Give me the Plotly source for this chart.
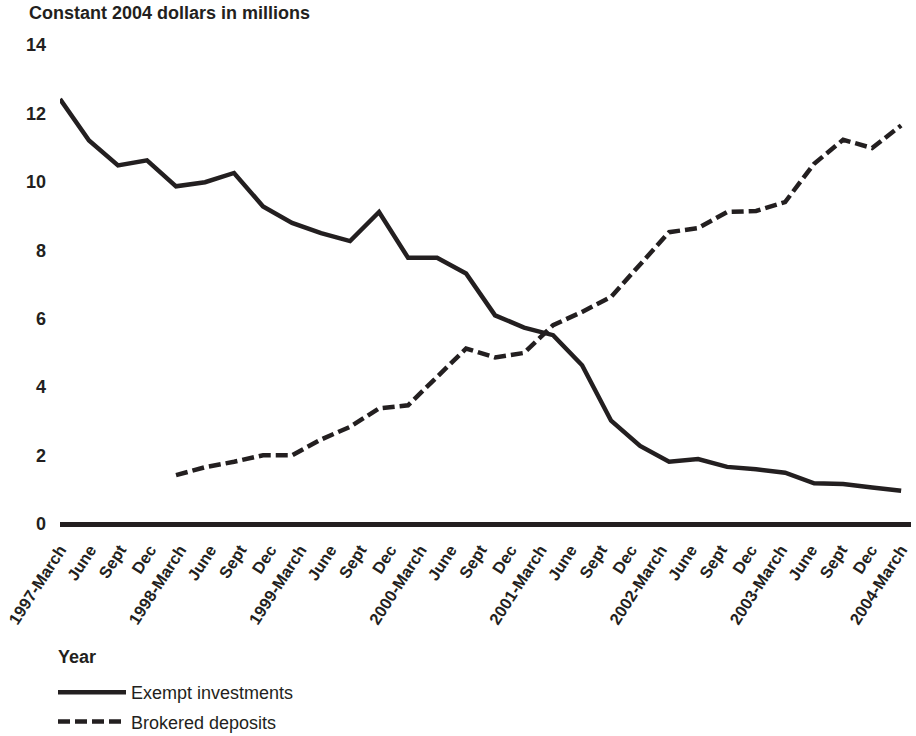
import plotly.graph_objects as go

# ---- data ----
tick_labels = ["1997-March", "June", "Sept", "Dec",
               "1998-March", "June", "Sept", "Dec",
               "1999-March", "June", "Sept", "Dec",
               "2000-March", "June", "Sept", "Dec",
               "2001-March", "June", "Sept", "Dec",
               "2002-March", "June", "Sept", "Dec",
               "2003-March", "June", "Sept", "Dec",
               "2004-March"]

exempt_investments = [12.42, 11.21, 10.48, 10.63, 9.87, 9.99, 10.26, 9.28, 8.80, 8.50,
                      8.27, 9.12, 7.78, 7.78, 7.32, 6.10, 5.74, 5.52, 4.64, 3.02,
                      2.28, 1.82, 1.90, 1.67, 1.60, 1.50, 1.19, 1.17, 1.07, 0.97]

brokered_deposits = [None, None, None, None, 1.43, 1.66, 1.82, 2.01, 2.01, 2.47,
                     2.84, 3.38, 3.47, 4.30, 5.13, 4.87, 5.00, 5.81, 6.20, 6.64,
                     7.61, 8.53, 8.65, 9.12, 9.15, 9.41, 10.53, 11.23, 10.99, 11.65]

y_ticks = [0, 2, 4, 6, 8, 10, 12, 14]

# ---- figure ----
INK = "#231f20"
FONT = "Liberation Sans, Arial, Helvetica, sans-serif"

n_pts = len(exempt_investments)
x_idx = list(range(n_pts))
# the labels are spread evenly across the full span of the data
span = n_pts - 1
tick_pos = [i * span / (len(tick_labels) - 1) for i in range(len(tick_labels))]

FIG_W, FIG_H = 916, 736
ML, MR, MT, MB = 60, 5, 45, 200
PLOT_W = FIG_W - ML - MR
PLOT_H = FIG_H - MT - MB
BOTTOM = FIG_H - MB  # figure y of plot bottom


def py(fig_y):
    """figure pixel y -> paper coordinate"""
    return (BOTTOM - fig_y) / PLOT_H


def px(fig_x):
    return (fig_x - ML) / PLOT_W


fig = go.Figure()
fig.add_trace(go.Scatter(
    x=x_idx, y=exempt_investments, mode="lines", name="Exempt investments",
    line=dict(color=INK, width=4.5), legendgroup="a"))
fig.add_trace(go.Scatter(
    x=x_idx, y=brokered_deposits, mode="lines", name="Brokered deposits",
    line=dict(color=INK, width=4.5, dash="12px,5px"), legendgroup="b",
    connectgaps=False))

fig.update_layout(
    width=FIG_W, height=FIG_H,
    margin=dict(l=ML, r=MR, t=MT, b=MB, autoexpand=False),
    paper_bgcolor="white", plot_bgcolor="white",
    font=dict(family=FONT, color=INK),
    showlegend=True,
    legend=dict(
        font=dict(size=18, family=FONT, color=INK),
        x=px(53), xanchor="left", y=py(674), yanchor="top",
        itemwidth=68, tracegroupgap=3, bgcolor="rgba(0,0,0,0)",
    ),
    xaxis=dict(
        range=[0, span + 0.34], automargin=False,
        tickmode="array", tickvals=tick_pos,
        ticktext=["<b>%s</b>" % t for t in tick_labels],
        tickangle=-57, tickfont=dict(size=16.5, family=FONT, color=INK),
        showgrid=False, zeroline=False, showline=False, ticks="",
        fixedrange=True,
    ),
    yaxis=dict(
        range=[-0.35, 14], automargin=False,
        tickmode="array", tickvals=y_ticks,
        ticktext=["<b>%d</b>" % v for v in y_ticks],
        tickfont=dict(size=18, family=FONT, color=INK),
        showgrid=False, showline=False, ticks="",
        zeroline=True, zerolinecolor=INK, zerolinewidth=4.5,
        ticklabelstandoff=13,
        fixedrange=True,
    ),
    annotations=[
        dict(text="<b>Constant 2004 dollars in millions</b>",
             xref="paper", yref="paper", x=px(27), y=py(13),
             xanchor="left", yanchor="middle", showarrow=False,
             font=dict(size=18, family=FONT, color=INK)),
        dict(text="<b>Year</b>",
             xref="paper", yref="paper", x=px(56), y=py(657),
             xanchor="left", yanchor="middle", showarrow=False,
             font=dict(size=18, family=FONT, color=INK)),
    ],
)

fig.write_html("out.html",
               config={"displayModeBar": False},
               post_script="document.body.style.margin='0';"
                           "document.body.style.overflow='hidden';")
